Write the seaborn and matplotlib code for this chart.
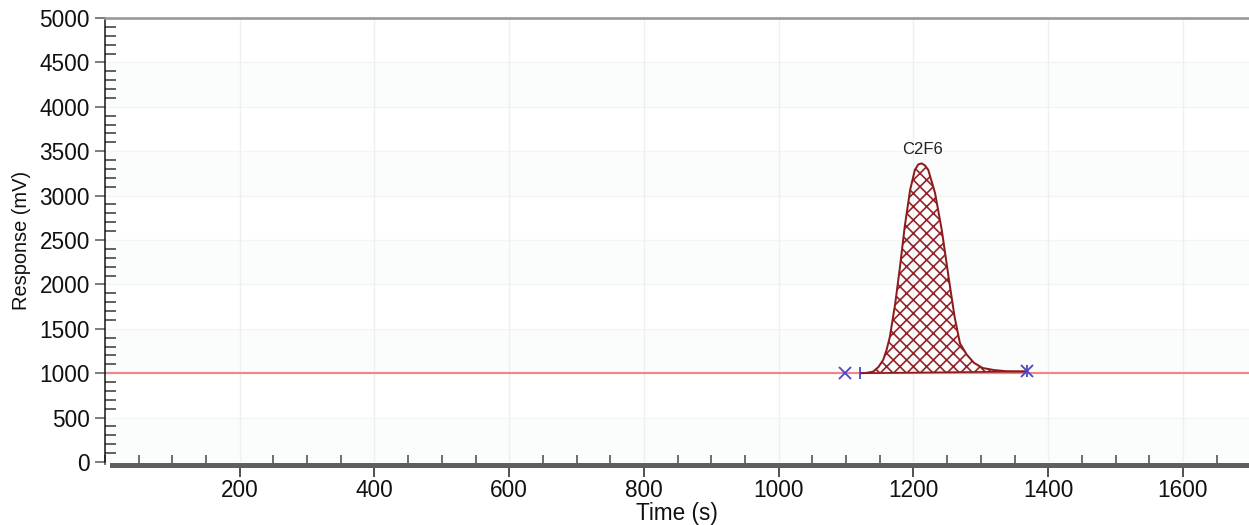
import numpy as np
import pandas as pd
import matplotlib
matplotlib.use("Agg")
import matplotlib.pyplot as plt
from matplotlib.ticker import MultipleLocator
import seaborn as sns

# ---- data ----
peak_time = [1121, 1130, 1140, 1148, 1155, 1160, 1165, 1173, 1180, 1187, 1195,
             1202, 1207, 1212, 1217, 1222, 1232, 1242, 1252, 1261, 1269, 1279,
             1290, 1303, 1320, 1338, 1355, 1368]
peak_resp = [1000, 1003, 1017, 1070, 1149, 1260, 1411, 1790, 2200, 2650, 3063,
             3288, 3350, 3363, 3340, 3288, 3029, 2612, 2087, 1636, 1336, 1210,
             1115, 1058, 1035, 1022, 1020, 1020]
peak_name = "C2F6"
peak_apex_time = 1213
peak_label_resp = 3430
baseline_level = 1000
start_x_time = [1098]
start_x_resp = [1000]
start_bar_time = [1121]
start_bar_resp = [1000]
end_time = [1368]
end_resp = [1020]
y_ticks = [0, 500, 1000, 1500, 2000, 2500, 3000, 3500, 4000, 4500, 5000]
x_ticks = [200, 400, 600, 800, 1000, 1200, 1400, 1600]
band_starts = [0, 1000, 2000, 3000, 4000]

sns.set_theme(style="white")
plt.rcParams["font.family"] = ["Liberation Sans", "DejaVu Sans"]
plt.rcParams["hatch.linewidth"] = 1.0

W, H, DPI = 1249, 525, 120
fig = plt.figure(figsize=(W / DPI, H / DPI), dpi=DPI)
ax = fig.add_axes([105 / W, (H - 462) / H, (W - 105) / W, 444 / H])
ax.set_facecolor("white")

# faint alternating bands and grid
for b in band_starts:
    ax.axhspan(b, b + 500, color="#fbfcfc", zorder=0, lw=0)
for v in y_ticks:
    ax.axhline(v, color="#f3f4f4", lw=0.8, zorder=0.5)
for v in x_ticks:
    ax.axvline(v, color="#efefef", lw=0.8, zorder=0.5)

# baseline trace
ax.axhline(baseline_level, color="#f08888", lw=1.3, zorder=2)

# integrated peak
df = pd.DataFrame({"Time (s)": peak_time, "Response (mV)": peak_resp})
ax.fill(peak_time, peak_resp, facecolor="none", edgecolor="#96232a",
        hatch="xxx", lw=0, zorder=3)
sns.lineplot(data=df, x="Time (s)", y="Response (mV)", sort=False,
             color="#8b1c1c", lw=1.2, ax=ax, zorder=4)
ax.plot([peak_time[0], peak_time[-1]], [peak_resp[0], peak_resp[-1]],
        color="#8b1c1c", lw=1.0, zorder=4)

# integration markers
ax.plot(start_x_time, start_x_resp, ls="none", marker="x", color="#4a4ac8",
        ms=7, mew=1.1, zorder=5)
ax.plot(start_bar_time, start_bar_resp, ls="none", marker="|", color="#4a4ac8",
        ms=7, mew=1.1, zorder=5)
ax.plot(end_time, end_resp, ls="none", marker="x", color="#4a4ac8",
        ms=7, mew=1.1, zorder=5)
ax.plot(end_time, end_resp, ls="none", marker="|", color="#4a4ac8",
        ms=7, mew=1.1, zorder=5)

ax.text(peak_apex_time, peak_label_resp, peak_name, ha="center", va="bottom",
        fontsize=10, color="#222222")

# axes, spines, ticks
ax.set_xlim(0, 1698)
ax.set_ylim(0, 5000)
ax.set_yticks(y_ticks)
ax.set_xticks(x_ticks)
ax.yaxis.set_minor_locator(MultipleLocator(100))
ax.xaxis.set_minor_locator(MultipleLocator(50))

ax.spines["right"].set_visible(False)
ax.spines["top"].set_color("#9a9a9a")
ax.spines["top"].set_linewidth(1.6)
ax.spines["left"].set_color("#111111")
ax.spines["left"].set_linewidth(0.9)
ax.spines["bottom"].set_color("#5e5e5e")
ax.spines["bottom"].set_linewidth(3.0)
ax.spines["bottom"].set_position(("outward", 1.5))
ax.spines["bottom"].set_bounds(11, 1698)

ax.tick_params(axis="y", which="major", direction="out", length=6, width=0.9,
               color="#555555", pad=3, labelsize=13.5, labelcolor="#111111",
               left=True)
ax.tick_params(axis="y", which="minor", direction="in", length=6.5, width=0.9,
               color="#333333", left=True)
ax.tick_params(axis="x", which="major", direction="out", length=7, width=1.0,
               color="#333333", pad=1.5, labelsize=13.5, labelcolor="#111111",
               bottom=True)
ax.tick_params(axis="x", which="minor", direction="in", length=6, width=0.9,
               color="#444444", bottom=True)

ax.set_xlabel("Time (s)", fontsize=13.5, color="#111111", labelpad=0)
ax.set_ylabel("Response (mV)", fontsize=12, color="#111111", labelpad=5)

fig.savefig("out.png", dpi=DPI)
